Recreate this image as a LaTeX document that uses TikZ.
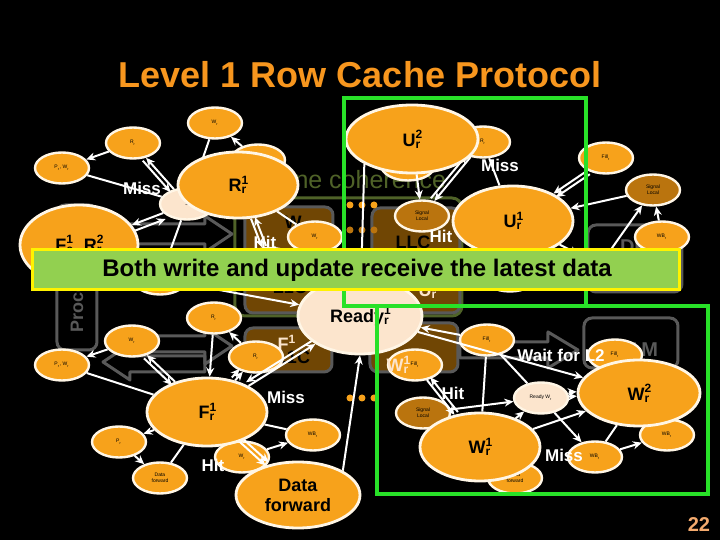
\documentclass[tikz,border=0pt]{standalone}
\usepackage{fontspec}
\setmainfont{Liberation Sans}
\usetikzlibrary{shapes.geometric,arrows.meta}

\definecolor{ora}{RGB}{247,162,27}
\definecolor{rim}{RGB}{255,246,230}
\definecolor{peach}{RGB}{252,229,205}
\definecolor{brn}{RGB}{186,116,14}
\definecolor{boxbrn}{RGB}{112,70,4}
\definecolor{olive}{RGB}{79,98,40}
\definecolor{slate}{RGB}{89,89,89}
\definecolor{lime}{RGB}{146,208,80}
\definecolor{hilite}{RGB}{40,225,40}
\definecolor{titleora}{RGB}{247,150,30}
\definecolor{pgnum}{RGB}{244,170,110}

\pgfdeclarelayer{back}
\pgfdeclarelayer{edges}
\pgfsetlayers{back,edges,main}

\newcommand{\supsub}[3]{#1\rlap{\textsuperscript{#2}}\textsubscript{#3}}

\tikzset{
  big/.style={ellipse, fill=ora, draw=rim, line width=1.4pt, inner sep=0pt,
    minimum width=60pt, minimum height=34pt, align=center,
    font=\bfseries\fontsize{9}{10}\selectfont},
  small/.style={ellipse, fill=ora, draw=rim, line width=1.2pt, inner sep=0pt,
    minimum width=27pt, minimum height=15.5pt, align=center,
    font=\fontsize{2.5}{3}\selectfont},
  sbrown/.style={small, fill=brn},
  speach/.style={small, fill=peach},
  flow/.style={draw=white, line width=1pt, -{Stealth[length=4.5pt,width=4pt]}},
  link/.style={draw=white, line width=1pt},
  twin/.style={transform canvas={shift={#1}}},
  lbl/.style={text=white, font=\bfseries\fontsize{8.5}{9}\selectfont},
  unitbox/.style={draw=slate, line width=1.5pt, rounded corners=4pt},
  ghostarrow/.style={draw=slate, line width=1.5pt, line join=round},
  ghost/.style={text=slate, font=\bfseries\fontsize{10}{11}\selectfont},
  boxtext/.style={font=\bfseries\fontsize{9}{10}\selectfont},
}

\begin{document}
\begin{tikzpicture}[x=0.5pt, y=-0.5pt]
\begin{pgfonlayer}{back}
\fill[black] (0,0) rectangle (720,540);
\end{pgfonlayer}
\useasboundingbox (0,0) rectangle (720,540);

% title
\node[anchor=base, text=titleora, font=\bfseries\fontsize{18}{20}\selectfont] (title) at (360,88) {Level 1 Row Cache Protocol};

\begin{pgfonlayer}{back}
% faded hierarchy underneath
\draw[olive, line width=1.5pt, rounded corners=5pt] (235,198) rectangle (462,316);
\node[anchor=west, text=olive, font=\fontsize{12.5}{14}\selectfont] (coh) at (268,180) {Line coherence};
\draw[unitbox] (57,205) rectangle (97,350);
\node[ghost, rotate=90, anchor=west, font=\bfseries\fontsize{9}{10}\selectfont] (proc) at (77,340) {Processor};
\draw[ghostarrow] (130,224) -- (205,224) -- (205,216) -- (232,234) -- (205,252) -- (205,244) -- (130,244) -- cycle;
\draw[ghostarrow] (130,336) -- (205,336) -- (205,328) -- (232,346) -- (205,364) -- (205,356) -- (130,356) -- cycle;
\draw[ghostarrow] (205,352) -- (130,352) -- (130,344) -- (103,362) -- (130,380) -- (130,372) -- (205,372) -- cycle;
\draw[ghostarrow] (460,342) -- (548,342) -- (548,332) -- (578,350) -- (548,368) -- (548,358) -- (460,358) -- cycle;
\draw[unitbox, fill=boxbrn] (245,207) rectangle (333,313);
\node[boxtext] (wtag) at (293,222) {W};
\node[boxtext] (l1c) at (290,287) {L1C};
\draw[unitbox, fill=boxbrn] (372,208) rectangle (460,313);
\node[boxtext] (llc) at (413,242) {LLC};
\node[boxtext, text=peach] (utag) at (428,290) {\supsub{U}{1}{r}};
\draw[unitbox, fill=boxbrn] (245,328) rectangle (332,372);
\node[boxtext] (l1clow) at (293,357) {L1C};
\node[boxtext, text=peach] (ftag) at (287,343) {F\textsuperscript{1}};
\draw[unitbox, fill=boxbrn] (370,323) rectangle (458,372);
\draw[unitbox] (588,225) rectangle (682,292);
\node[ghost] (dramtop) at (650,247) {DRAM};
\draw[unitbox] (584,318) rectangle (678,368);
\node[ghost] (dram) at (628,350) {DRAM};
\foreach \x in {350,362,374} {
  \fill[ora] (\x,205) circle (3.5);
  \fill[brn] (\x,230) circle (3.5);
  \fill[ora] (\x,398) circle (3.5);
}

% small states
\node[small] (tl1) at (215,123) {W\textsubscript{r}};
\node[small] (tl2) at (133,143) {R\textsubscript{r}};
\node[small] (tl3) at (62,168) {P\textsubscript{r}, W\textsubscript{r}};
\node[speach] (tl4) at (187,204) {S};
\node[small] (tl5) at (258,160) {};
\node[small] (tl6) at (315,237) {W\textsubscript{r}};
\node[small] (hl) at (160,279) {};
\node[small, minimum width=30pt, minimum height=20pt] (hc) at (270,268) {};
\node[small] (tr1) at (483,142) {R\textsubscript{r}};
\node[small] (tr2) at (408,165) {};
\node[small] (tr3) at (606,158) {Fill\textsubscript{r}};
\node[sbrown] (tr4) at (653,190) {Signal\\Local};
\node[sbrown] (tr5) at (422,216) {Signal\\Local};
\node[small] (tr6) at (662,237) {WB\textsubscript{r}};
\node[small] (hb1) at (510,276) {};
\node[small] (hb2) at (600,265) {};
\node[small] (bl1) at (214,318) {R\textsubscript{r}};
\node[small] (bl2) at (132,341) {W\textsubscript{r}};
\node[small] (bl3) at (62,365) {P\textsubscript{r}, W\textsubscript{r}};
\node[small] (bl4) at (256,357) {R\textsubscript{r}};
\node[small] (bl5) at (119,442) {P\textsubscript{r}};
\node[small] (bl6) at (160,478) {Data\\forward};
\node[small] (bl7) at (313,435) {WB\textsubscript{r}};
\node[small] (bl8) at (242,457) {W\textsubscript{r}};
\node[small] (br1) at (487,340) {Fill\textsubscript{r}};
\node[small] (br2) at (415,365) {Fill\textsubscript{r}};
\node[speach] (br3) at (541,398) {Ready W\textsubscript{r}};
\node[small] (br4) at (615,355) {Fill\textsubscript{r}};
\node[sbrown] (br5) at (423,413) {Signal\\Local};
\node[small] (br6) at (667,435) {WB\textsubscript{r}};
\node[small] (br7) at (595,457) {WB\textsubscript{r}};
\node[small] (br8) at (515,478) {Data\\forward};
\node[boxtext, text=peach] (wtag2) at (398,365) {\supsub{W}{1}{r}};
\end{pgfonlayer}

% main states
\node[big, minimum width=66pt] (U2r) at (412,139) {\supsub{U}{2}{r}};
\node[big, minimum height=33pt] (R1r) at (238,185) {\supsub{R}{1}{r}};
\node[big, minimum width=59pt, minimum height=40pt] (fcr) at (79,245) {\supsub{F}{1}{c}, \supsub{R}{2}{r}};
\node[big, minimum height=35pt] (U1r) at (513,221) {\supsub{U}{1}{r}};
\node[big, fill=peach, minimum width=62pt, minimum height=38pt] (ready) at (360,316) {\supsub{Ready}{1}{r}};
\node[big] (F1r) at (207,412) {\supsub{F}{1}{r}};
\node[big, minimum width=61pt, minimum height=33pt] (W2r) at (639,393) {\supsub{W}{2}{r}};
\node[big] (W1r) at (480,447) {\supsub{W}{1}{r}};
\node[big, minimum width=62pt, minimum height=33pt] (fwd) at (298,495) {Data\\forward};

\begin{pgfonlayer}{edges}
% transitions, top left
\draw[flow] (tl2) -- (tl3);
\draw[link] (tl3) -- (tl4);
\draw[flow] (tl4) -- (tl2);
\draw[flow, twin={(-1.65pt,-1.45pt)}] (tl2) -- (tl4);
\draw[link] (tl1) -- (tl4);
\draw[flow] (tl5) -- (tl1);
\draw[flow] (tl4) -- (fcr);
\draw[flow, twin={(1.2pt,-3pt)}] (fcr) -- (tl4);
\draw[flow] (tl4) -- (hl);
\draw[flow] (R1r) -- (hc);
\draw[flow, twin={(2pt,0.8pt)}] (hc) -- (R1r);
\draw[link] (R1r) -- (tl6);
% top right
\draw[flow] (U2r) -- (tr5);
\draw[flow] (tr1) -- (tr5);
\draw[flow, twin={(-1.7pt,1.4pt)}] (tr5) -- (tr1);
\draw[link] (tr1) -- (U1r);
\draw[flow] (tr3) -- (U1r);
\draw[flow, twin={(1.2pt,-1.8pt)}] (tr3) -- (U1r);
\draw[flow] (tr4) -- (U1r);
\draw[flow] (tr6) -- (tr4);
\draw[flow] (hb2) -- (tr4);
\draw[flow] (U1r) -- (hb2);
\draw[flow] (U2r.south west) -- (ready);
% bottom left
\draw[flow] (bl2) -- (bl3);
\draw[link] (bl3) -- (F1r);
\draw[flow] (F1r) -- (bl2);
\draw[flow, twin={(-1.5pt,-1.6pt)}] (bl2) -- (F1r);
\draw[flow] (bl1) -- (F1r);
\draw[flow] (bl4) -- (bl1);
\draw[flow] (F1r) -- (bl4);
\draw[flow, twin={(-1.6pt,1.5pt)}] (F1r) -- (bl4);
\draw[flow] (F1r) -- (ready);
\draw[flow, twin={(-1.2pt,1.9pt)}] (ready) -- (F1r);
\draw[flow] (hl) -- (ready);
\draw[flow] (F1r) -- (bl5);
\draw[flow] (bl5) -- (bl6);
\draw[link] (F1r) -- (bl6);
\draw[link] (F1r) -- (bl7);
\draw[flow] (F1r) -- (fwd);
\draw[flow, twin={(1.5pt,1.6pt)}] (F1r) -- (fwd);
\draw[flow] (bl8) -- (bl7);
\draw[flow] (fwd.north east) -- (ready.south);
% bottom right
\draw[flow] (br1) -- (ready);
\draw[flow] (br2) -- (W1r);
\draw[flow, twin={(1.7pt,1.4pt)}] (W1r) -- (br2);
\draw[flow] (br5) -- (br3);
\draw[link] (br1) -- (br3);
\draw[link] (br1) -- (W1r);
\draw[flow] (ready) -- (W2r);
\draw[flow] (W1r) -- (W2r);
\draw[flow] (W1r) -- (br3);
\draw[flow] (br3) -- (br7);
\draw[flow] (br7) -- (br6);
\draw[link] (W2r) -- (br7);
\draw[flow] (br3) -- (W2r);
\draw[flow, twin={(-0.1pt,2.2pt)}] (br3) -- (W2r);
\end{pgfonlayer}

% highlight frames
\draw[hilite, line width=2pt] (344,98) rectangle (586,306);
\draw[hilite, line width=2pt] (377,306) rectangle (708,494);

% banner
\draw[yellow, fill=lime, line width=1.5pt] (33,250) rectangle (680,290);
\node[anchor=base, font=\bfseries\fontsize{12}{14}\selectfont] (msg) at (357,277) {Both write and update receive the latest data};

% edge labels
\node[lbl] (miss1) at (142,188) {Miss};
\node[lbl] (miss2) at (500,165) {Miss};
\node[lbl] (hit1) at (265,242) {Hit};
\node[lbl] (hit2) at (441,236) {Hit};
\node[lbl] (miss3) at (286,397) {Miss};
\node[lbl] (wait) at (561,355) {Wait for L2};
\node[lbl] (hit3) at (453,393) {Hit};
\node[lbl] (hit4) at (213,465) {Hit};
\node[lbl] (miss4) at (564,455) {Miss};

\node[anchor=base, text=pgnum, font=\bfseries\fontsize{10}{12}\selectfont] (pg) at (699,532) {22};
\end{tikzpicture}
\end{document}
